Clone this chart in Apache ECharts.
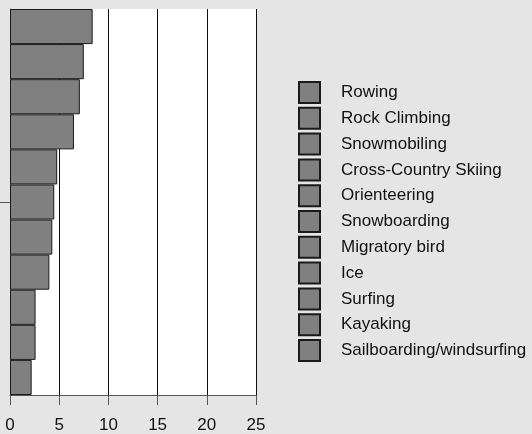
<!DOCTYPE html>
<html><head><meta charset="utf-8">
<script src="https://cdn.jsdelivr.net/npm/echarts@6/dist/echarts.min.js"></script>
<style>html,body{margin:0;padding:0;background:#e5e5e5;}#c{width:532px;height:434px;}</style>
</head><body><div id="c"></div>
<script>
const activities = ["Rowing","Rock Climbing","Snowmobiling","Cross-Country Skiing","Orienteering","Snowboarding","Migratory bird","Ice","Surfing","Kayaking","Sailboarding/windsurfing"];
const values = [8.4, 7.5, 7.1, 6.5, 4.8, 4.5, 4.3, 4.0, 2.6, 2.6, 2.2];
const xTicks = [0, 5, 10, 15, 20, 25];

const chart = echarts.init(document.getElementById('c'));
const series = activities.map((name, i) => ({
  name: name,
  type: 'bar',
  data: [values[i]],
  barGap: '0%',
  barCategoryGap: '0%',
  itemStyle: { color: '#808080', borderColor: '#1a1a1a', borderWidth: 1 },
  emphasis: { disabled: true },
  animation: false
}));
chart.setOption({
  backgroundColor: '#e5e5e5',
  animation: false,
  grid: { left: 10, right: 276, top: 9, bottom: 38, show: true, backgroundColor: '#ffffff', borderWidth: 0 },
  xAxis: {
    type: 'value', min: xTicks[0], max: xTicks[xTicks.length - 1], interval: 5,
    axisLine: { show: true, lineStyle: { color: '#555', width: 1 } },
    axisTick: { show: true, length: 10, lineStyle: { color: '#555' } },
    axisLabel: { fontSize: 17, color: '#111', margin: 22, fontFamily: 'Liberation Sans, Arial, sans-serif' },
    splitLine: { show: true, lineStyle: { color: '#111', width: 1 } }
  },
  yAxis: {
    type: 'category', data: [''], inverse: true,
    axisLine: { show: true, lineStyle: { color: '#555', width: 1 } },
    axisTick: { show: true, length: 10, alignWithLabel: true, lineStyle: { color: '#555' } },
    axisLabel: { show: false },
    splitLine: { show: false }
  },
  legend: {
    orient: 'vertical', left: 293, top: 76,
    itemWidth: 21, itemHeight: 21, itemGap: 2.8,
    icon: 'rect',
    selectedMode: false,
    textStyle: { fontSize: 17, lineHeight: 21, color: '#111', fontFamily: 'Liberation Sans, Arial, sans-serif', padding: [0, 0, 0, 16] }
  },
  series: series
});
</script></body></html>
